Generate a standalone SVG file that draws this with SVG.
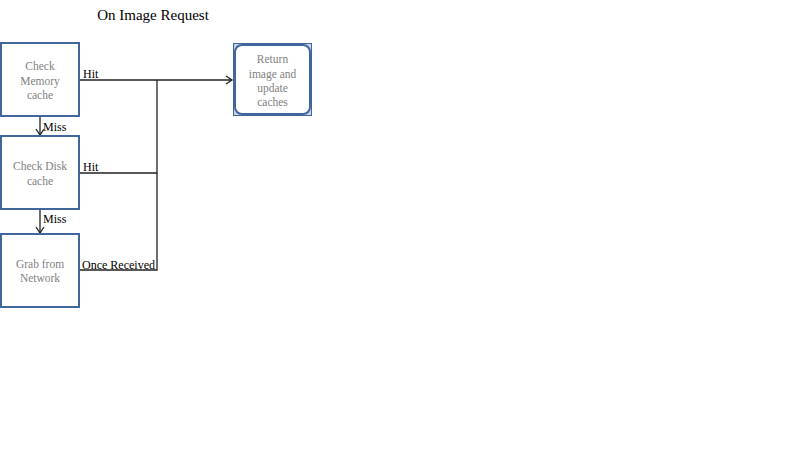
<svg xmlns="http://www.w3.org/2000/svg" width="800" height="449" viewBox="0 0 800 449">
<style>
.box{fill:#fff;stroke:#41669c;stroke-width:2}
.bt{font-family:"Liberation Serif",serif;font-size:11.5px;fill:#7f7f7f;text-anchor:middle}
.lb{font-family:"Liberation Serif",serif;font-size:12px;fill:#000}
.ln{fill:none;stroke:#222;stroke-width:1.3}
</style>
<defs>
<marker id="ar" markerWidth="10" markerHeight="10" refX="8" refY="5" orient="auto" markerUnits="userSpaceOnUse">
<path d="M2,1 L8,5 L2,9" fill="none" stroke="#222" stroke-width="1.3"/>
</marker>
</defs>
<rect width="800" height="449" fill="#fff"/>
<text x="153" y="20" font-family="Liberation Serif,serif" font-size="15" text-anchor="middle" fill="#000">On Image Request</text>
<g id="connectors">
<line class="ln" x1="80" y1="80" x2="232" y2="80" marker-end="url(#ar)"/>
<polyline class="ln" points="80,173 157,173 157,80"/>
<polyline class="ln" points="80,270 157,270 157,173"/>
<line class="ln" x1="40" y1="117" x2="40" y2="135" marker-end="url(#ar)"/>
<line class="ln" x1="40" y1="210" x2="40" y2="233" marker-end="url(#ar)"/>
<text class="lb" x="83" y="78">Hit</text>
<text class="lb" x="83" y="171">Hit</text>
<text class="lb" x="82" y="269">Once Received</text>
<text class="lb" x="43" y="131">Miss</text>
<text class="lb" x="43" y="223">Miss</text>
</g>
<g id="memory">
<rect class="box" x="1" y="43" width="78" height="73"/>
<text class="bt" x="40" y="70">Check</text>
<text class="bt" x="40" y="84.5">Memory</text>
<text class="bt" x="40" y="99">cache</text>
</g>
<g id="disk">
<rect class="box" x="1" y="136" width="78" height="73"/>
<text class="bt" x="40" y="170">Check Disk</text>
<text class="bt" x="40" y="185">cache</text>
</g>
<g id="network">
<rect class="box" x="1" y="234" width="78" height="73"/>
<text class="bt" x="40" y="268">Grab from</text>
<text class="bt" x="40" y="282">Network</text>
</g>
<g id="return">
<rect x="233.5" y="43.5" width="78" height="72" fill="#c5d3e8" stroke="#41669c" stroke-width="1"/>
<rect x="235" y="45" width="75" height="69" rx="7" fill="#fff" stroke="#41669c" stroke-width="2"/>
<text class="bt" x="272.5" y="63">Return</text>
<text class="bt" x="272.5" y="78">image and</text>
<text class="bt" x="272.5" y="92">update</text>
<text class="bt" x="272.5" y="106">caches</text>
</g>
</svg>
